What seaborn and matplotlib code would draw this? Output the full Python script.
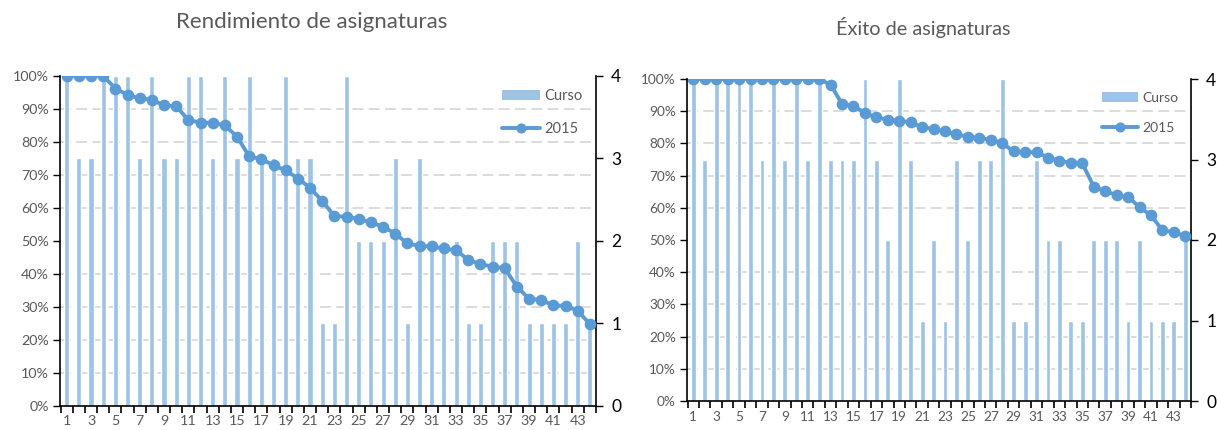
import matplotlib.pyplot as plt
import seaborn as sns
import numpy as np
from matplotlib.patches import Patch
from matplotlib.lines import Line2D
from matplotlib.ticker import PercentFormatter

sns.set_theme(style='white')
plt.rcParams['font.family'] = ['Lato', 'DejaVu Sans']

BAR = '#9DC3E6'
LINE = '#5B9BD5'
GREY = '#595959'

asignaturas = [str(i) for i in range(1, 45)]

# Rendimiento de asignaturas
rend_curso = [4, 3, 3, 4, 4, 4, 3, 4, 3, 3, 4, 4, 3, 4, 3, 4, 3, 3, 4, 3, 3, 1,
              1, 4, 2, 2, 2, 3, 1, 3, 2, 2, 2, 1, 1, 2, 2, 2, 1, 1, 1, 1, 2, 1]
rend_2015 = [100, 100, 100, 100, 96.2, 94.3, 93.2, 92.8, 91.1, 90.8, 86.7, 85.8,
             85.8, 85.0, 81.6, 75.6, 74.8, 72.9, 71.4, 68.9, 66.1, 62.1, 57.5,
             57.3, 56.7, 55.6, 54.3, 52.2, 49.2, 48.5, 48.3, 47.7, 47.1, 44.3,
             42.9, 42.2, 41.7, 36.1, 32.4, 32.1, 30.4, 30.3, 28.8, 24.7]

# Éxito de asignaturas
exito_curso = [4, 3, 4, 4, 4, 4, 3, 4, 3, 4, 3, 4, 3, 3, 3, 4, 3, 2, 4, 3, 1, 2,
               1, 3, 2, 3, 3, 4, 1, 1, 3, 2, 2, 1, 1, 2, 2, 2, 1, 2, 1, 1, 1, 2]
exito_2015 = [100, 100, 100, 100, 100, 100, 100, 100, 100, 100, 100, 100, 98.2,
              92.3, 91.7, 89.4, 88.1, 87.4, 87.0, 86.6, 85.0, 84.5, 83.7, 82.8,
              82.1, 81.6, 81.2, 80.1, 77.5, 77.2, 77.3, 75.6, 74.6, 74.0, 73.8,
              66.6, 65.2, 63.9, 63.4, 60.2, 57.7, 53.0, 52.4, 51.1]

fig = plt.figure(figsize=(12.17, 4.30), dpi=100)


def draw_panel(rect, curso, linea, pct_size, sec_size, leg_size):
    ax = fig.add_axes(rect)
    ax2 = ax.twinx()

    sns.barplot(x=asignaturas, y=curso, ax=ax2, color=BAR, saturation=1,
                width=0.42, errorbar=None)
    sns.pointplot(x=asignaturas, y=linea, ax=ax, color=LINE, markers='o',
                  markersize=6.3, linewidth=2.8, errorbar=None)

    # line axis above the bars
    ax.set_zorder(2)
    ax2.set_zorder(1)
    ax.patch.set_visible(False)

    ax.set_xlim(-0.55, 43.45)
    ax.set_ylim(0, 100)
    ax2.set_ylim(0, 4)
    ax.set_yticks(np.arange(0, 101, 10))
    ax.yaxis.set_major_formatter(PercentFormatter(100, decimals=0))
    ax2.set_yticks([0, 1, 2, 3, 4])

    ax.set_xticks(range(0, 44, 2))
    ax.set_xticklabels(asignaturas[::2])
    ax.set_xticks(np.arange(-0.5, 44, 1), minor=True)
    ax.tick_params(axis='x', which='major', length=0, pad=7,
                   labelsize=pct_size, labelcolor=GREY)
    ax.tick_params(axis='x', which='minor', length=5, width=1.2,
                   direction='out', color='black', bottom=True)
    ax.tick_params(axis='y', length=5, width=1, direction='out', color='black',
                   left=True, labelsize=pct_size, labelcolor=GREY, pad=3)
    ax2.tick_params(axis='y', length=5, width=1, direction='out', color='black',
                    right=True, labelsize=sec_size, labelcolor='black', pad=6)

    # dashed gridlines every 10%, behind the bars
    ax2.set_yticks(np.arange(0.4, 4.01, 0.4), minor=True)
    ax2.tick_params(axis='y', which='minor', length=0)
    ax2.set_axisbelow(True)
    ax2.grid(axis='y', which='minor', color='#D9D9D9', linestyle=(0, (6, 3)),
             linewidth=1.3)
    ax2.grid(axis='y', which='major', visible=False)
    ax.grid(False)

    for s in ['top', 'right']:
        ax.spines[s].set_visible(False)
    for s in ['top', 'left', 'bottom']:
        ax2.spines[s].set_visible(False)
    for s in ['left', 'bottom']:
        ax.spines[s].set_color('black')
        ax.spines[s].set_linewidth(1.2)
    ax2.spines['right'].set_color('black')
    ax2.spines['right'].set_linewidth(1.2)
    ax.set_xlabel('')
    ax.set_ylabel('')
    ax2.set_ylabel('')

    handles = [Patch(facecolor=BAR, edgecolor='none'),
               Line2D([], [], color=LINE, marker='o', lw=2.8, ms=6.3)]
    ax.legend(handles, ['Curso', '2015'], loc='upper right',
              bbox_to_anchor=(1.0, 1.0), frameon=False, labelspacing=1.3,
              handlelength=2.6, handletextpad=0.3, fontsize=leg_size,
              labelcolor=GREY)
    return ax


draw_panel([60 / 1217, 1 - 405.7 / 430, 536 / 1217, 329.7 / 430],
           rend_curso, rend_2015, 10.3, 12.5, 10.5)
draw_panel([687 / 1217, 1 - 401 / 430, 504 / 1217, 322 / 430],
           exito_curso, exito_2015, 9.8, 12.5, 10)

fig.text(312 / 1217, 1 - 22 / 430, 'Rendimiento de asignaturas', ha='center',
         va='center', fontsize=16, color=GREY)
fig.text(923 / 1217, 1 - 27 / 430, 'Éxito de asignaturas', ha='center',
         va='center', fontsize=14.3, color=GREY)

fig.savefig('out.png', dpi=100)
